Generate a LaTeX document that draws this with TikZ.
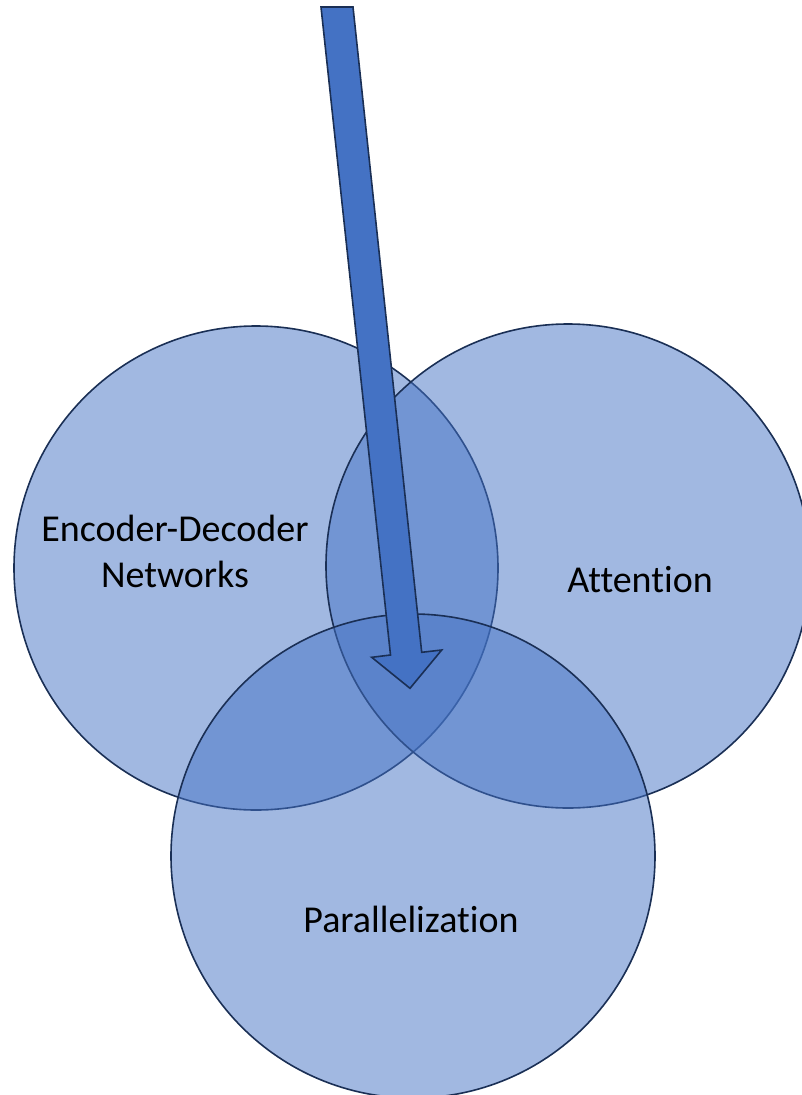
\documentclass[tikz,border=0pt]{standalone}
\usepackage{fontspec}
\setmainfont[Ligatures={NoCommon}]{Carlito}
\definecolor{accent}{HTML}{4472C4}
\definecolor{edge}{HTML}{1A2F55}
\begin{document}
\begin{tikzpicture}[x=1pt,y=-1pt,
  venn/.style={circle, draw=edge, line width=1.6pt, fill=accent, fill opacity=0.5, draw opacity=1, inner sep=0pt, minimum size=484pt},
  label/.style={font=\fontsize{38}{46}\selectfont, text=black, inner sep=0pt, anchor=base},
  blockarrow/.style={fill=accent, draw=edge, line width=1.6pt, line join=miter}]
\useasboundingbox (0,0) rectangle (802,1095);
\begin{scope}
\clip (0,0) rectangle (802,1095);
\node[venn] (enc) at (256,568) {};
\node[venn] (att) at (568,566) {};
\node[venn] (par) at (413,856) {};
\draw[blockarrow] (321,7) -- (353,7) -- (421.7,652.3) -- (441.7,650) -- (410,688.3) -- (371.7,657.3) -- (390.5,655) -- cycle;
\end{scope}
\node[label] (enc1) at (175,541) {Encoder-Decoder};
\node[label] (enc2) at (175,587) {Networks};
\node[label] (attt) at (640,592) {Attention};
\node[label] (part) at (411,932) {Parallelization};
\end{tikzpicture}
\end{document}
